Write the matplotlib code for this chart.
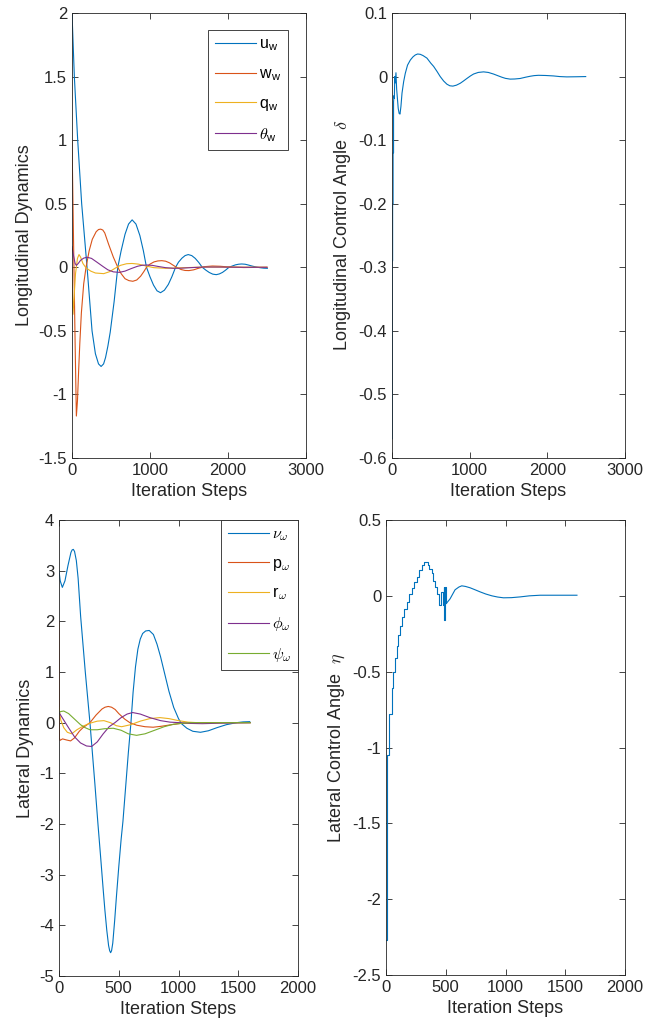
import numpy as np
import matplotlib
matplotlib.use("Agg")
from matplotlib import pyplot as plt
from matplotlib.ticker import FuncFormatter

plt.rcParams['font.family'] = ['Liberation Sans', 'DejaVu Sans']
plt.rcParams['mathtext.fontset'] = 'cm'
plt.rcParams['axes.unicode_minus'] = False

C_BLUE = '#0072BD'
C_ORANGE = '#D95319'
C_YELLOW = '#EDB120'
C_PURPLE = '#7E2F8E'
C_GREEN = '#77AC30'
C_TEXT = '#262626'

# longitudinal dynamics
u_x = [0, 30, 73, 124, 193, 257, 300, 340, 373, 405, 430, 460, 490, 540, 587, 630, 680, 725, 771,
       820, 870, 915, 955, 1000, 1045, 1090, 1135, 1185, 1235, 1280, 1328, 1365, 1410, 1450, 1490,
       1535, 1580, 1625, 1670, 1715, 1760, 1805, 1850, 1890, 1930, 1970, 2013, 2055, 2095, 2135,
       2175, 2220, 2260, 2300, 2340, 2380, 2420, 2460, 2505]
u_y = [2.0, 1.5, 1.0, 0.5, 0.0, -0.5, -0.68, -0.76, -0.78, -0.76, -0.71, -0.62, -0.51, -0.27, 0.0,
       0.13, 0.26, 0.34, 0.373, 0.34, 0.25, 0.13, 0.0, -0.075, -0.14, -0.185, -0.2, -0.18, -0.135,
       -0.075, 0.0, 0.04, 0.072, 0.092, 0.1, 0.092, 0.07, 0.038, 0.0, -0.022, -0.041, -0.054,
       -0.058, -0.052, -0.04, -0.022, 0.0, 0.01, 0.019, 0.024, 0.026, 0.024, 0.018, 0.011, 0.005,
       0.0, -0.004, -0.007, -0.008]

w_x = [0, 20, 40, 56, 70, 86, 100, 120, 150, 180, 220, 260, 310, 340, 368, 395, 420, 470, 530, 587,
       630, 680, 730, 780, 830, 880, 920, 955, 1000, 1050, 1100, 1152, 1200, 1250, 1300, 1340, 1400,
       1450, 1500, 1560, 1620, 1700, 1800, 1900, 2000, 2200, 2500]
w_y = [1.0, 0.2, -0.6, -1.17, -1.05, -0.8, -0.6, -0.36, -0.13, 0.0, 0.13, 0.22, 0.28, 0.297, 0.30,
       0.293, 0.27, 0.18, 0.08, 0.0, -0.05, -0.09, -0.105, -0.11, -0.1, -0.07, -0.035, 0.0, 0.025,
       0.042, 0.05, 0.052, 0.048, 0.035, 0.015, 0.0, -0.018, -0.025, -0.026, -0.02, -0.008, 0.005,
       0.01, 0.008, 0.003, -0.002, 0.0]

q_x = [0, 5, 13, 25, 45, 70, 90, 110, 140, 180, 240, 300, 407, 480, 560, 620, 700, 770, 850, 950,
       1050, 1200, 1400, 1700, 2100, 2500]
q_y = [0.0, -0.2, -0.37, -0.25, -0.05, 0.07, 0.1, 0.08, 0.03, -0.005, -0.03, -0.045, -0.05, -0.035,
       -0.005, 0.015, 0.028, 0.03, 0.025, 0.01, -0.003, -0.008, -0.004, 0.002, 0.001, 0.0]

th_x = [0, 20, 40, 56, 80, 110, 150, 193, 250, 320, 400, 460, 530, 608, 680, 760, 840, 900, 964,
        1030, 1100, 1200, 1300, 1400, 1550, 1700, 1900, 2200, 2500]
th_y = [0.163, 0.09, 0.03, 0.015, 0.03, 0.055, 0.072, 0.079, 0.07, 0.04, 0.005, -0.02, -0.036,
        -0.04, -0.03, -0.01, 0.008, 0.016, 0.018, 0.015, 0.007, -0.003, -0.008, -0.007, -0.002,
        0.002, 0.002, 0.0, 0.0]

# longitudinal control angle
d_x = [0, 4, 4, 8, 8, 14, 14, 20, 20, 26, 30, 36, 42, 51, 60, 70, 80, 92, 103, 115, 129, 150, 171,
       200, 236, 270, 300, 330, 364, 400, 450, 500, 536, 580, 621, 665, 707, 745, 784, 830, 879, 920,
       964, 1010, 1050, 1110, 1179, 1240, 1307, 1360, 1414, 1460, 1521, 1580, 1650, 1720, 1779,
       1830, 1886, 1980, 2079, 2160, 2250, 2370, 2494]
d_y = [-0.57, -0.57, -0.29, -0.29, -0.2, -0.2, -0.12, -0.12, -0.04, -0.03, -0.034, 0.0, -0.01,
       0.006, -0.02, -0.035, -0.05, -0.058, -0.059, -0.047, -0.026, -0.008, 0.005, 0.018, 0.026,
       0.031, 0.034, 0.0355, 0.035, 0.033, 0.029, 0.021, 0.016, 0.008, 0.0, -0.007, -0.012, -0.0145,
       -0.015, -0.0135, -0.0105, -0.007, -0.003, 0.001, 0.004, 0.0065, 0.0074, 0.0065, 0.004,
       0.0015, -0.001, -0.0028, -0.004, -0.0038, -0.003, -0.001, 0.0005, 0.0015, 0.002, 0.0017,
       0.001, 0.0, -0.0005, -0.0003, 0.0]

# lateral dynamics
nu_x = [0, 10, 28, 50, 75, 100, 110, 120, 130, 145, 160, 181, 220, 259, 300, 326, 350, 370, 384,
        400, 415, 424, 432, 440, 450, 466, 480, 500, 520, 535, 560, 580, 602, 620, 640, 660, 680,
        700, 725, 755, 790, 820, 850, 886, 920, 960, 1000, 1025, 1070, 1120, 1184, 1250, 1320,
        1400, 1485, 1540, 1596]
nu_y = [3.0, 2.8, 2.67, 2.8, 3.1, 3.36, 3.41, 3.42, 3.38, 3.2, 2.85, 2.1, 1.0, 0.0, -1.2, -2.0,
        -2.7, -3.3, -3.7, -4.1, -4.4, -4.5, -4.54, -4.5, -4.35, -3.9, -3.45, -2.85, -2.3, -1.95,
        -1.2, -0.6, 0.0, 0.6, 1.1, 1.45, 1.65, 1.76, 1.81, 1.82, 1.74, 1.55, 1.3, 0.95, 0.62, 0.3,
        0.08, -0.02, -0.11, -0.17, -0.19, -0.16, -0.1, -0.04, 0.0, 0.015, 0.02]

p_x = [0, 3, 8, 30, 60, 97, 130, 170, 200, 259, 310, 360, 385, 412, 440, 470, 500, 550, 593, 650,
       720, 788, 860, 940, 1020, 1100, 1200, 1600]
p_y = [2.0, -0.3, -0.35, -0.32, -0.34, -0.36, -0.3, -0.17, -0.1, 0.0, 0.15, 0.27, 0.305, 0.32,
       0.305, 0.26, 0.18, 0.07, 0.0, -0.05, -0.08, -0.09, -0.07, -0.04, -0.015, -0.005, 0.0, 0.0]

r_x = [0, 5, 15, 40, 70, 106, 150, 200, 260, 320, 376, 430, 480, 524, 600, 680, 760, 844, 920, 1000,
       1080, 1200, 1400, 1600]
r_y = [0.3, 0.2, 0.05, -0.1, -0.19, -0.22, -0.14, -0.07, -0.01, 0.03, 0.04, 0.0, -0.06, -0.08,
       -0.04, 0.03, 0.08, 0.1, 0.08, 0.04, 0.01, -0.005, 0.0, 0.0]

phi_x = [0, 40, 80, 130, 180, 230, 273, 320, 370, 420, 468, 520, 570, 616, 680, 760, 850, 930, 1011,
         1100, 1200, 1350, 1600]
phi_y = [0.2, 0.05, -0.1, -0.28, -0.4, -0.46, -0.47, -0.38, -0.22, -0.08, 0.0, 0.1, 0.17, 0.2,
         0.17, 0.1, 0.04, 0.01, 0.0, -0.015, -0.02, -0.01, 0.0]

psi_x = [0, 15, 40, 80, 130, 180, 220, 259, 320, 380, 454, 520, 580, 649, 720, 800, 880, 960, 1040,
         1100, 1600]
psi_y = [0.2, 0.22, 0.23, 0.18, 0.07, -0.04, -0.1, -0.14, -0.14, -0.12, -0.11, -0.15, -0.22, -0.25,
         -0.22, -0.15, -0.08, -0.03, -0.01, 0.0, 0.0]

# lateral control angle: stepped start, smooth tail
eta_step_x = [0, 10, 28, 47, 61, 75, 89, 103, 117, 131, 151, 173, 193, 215, 235, 257, 279, 299,
              321, 341, 355, 363, 383, 397, 411, 430, 447, 461, 475, 486, 489, 497, 505]
eta_step_y = [-2.27, -1.05, -0.78, -0.61, -0.50, -0.41, -0.33, -0.26, -0.20, -0.14, -0.09, -0.04,
              0.015, 0.05, 0.09, 0.126, 0.17, 0.20, 0.22, 0.22, 0.2, 0.18, 0.148, 0.10, 0.06, 0.015,
              -0.06, 0.026, -0.06, 0.06, -0.16, 0.06, -0.05]
eta_x = [505, 536, 578, 610, 634, 665, 704, 745, 788, 835, 886, 935, 983, 1050, 1123, 1200, 1290,
         1450, 1598]
eta_y = [-0.05, -0.02, 0.04, 0.058, 0.066, 0.062, 0.053, 0.04, 0.026, 0.012, 0.0, -0.008, -0.013,
         -0.012, -0.007, 0.0, 0.004, 0.004, 0.004]

W, H = 645, 1036
fig = plt.figure(figsize=(W / 100, H / 100), dpi=100)


def fmt(v, p):
    return '%g' % (round(v, 6) + 0.0)


def make_ax(l, t, r, b):
    ax = fig.add_axes([l / W, 1 - b / H, (r - l) / W, (b - t) / H])
    ax.tick_params(direction='in', top=True, right=True, labelsize=12, colors=C_TEXT,
                   length=4, width=0.6)
    for s in ax.spines.values():
        s.set_linewidth(0.6)
        s.set_color(C_TEXT)
    ax.yaxis.set_major_formatter(FuncFormatter(fmt))
    ax.set_xlabel('Iteration Steps', fontsize=13, color=C_TEXT, labelpad=4)
    return ax


def make_legend(ax, anchor, spacing):
    leg = ax.legend(loc='upper right', bbox_to_anchor=anchor, fontsize=11.5, fancybox=False,
                    framealpha=1, edgecolor=C_TEXT, handlelength=2.6, labelspacing=spacing,
                    borderpad=0.4, handletextpad=0.2, borderaxespad=0)
    leg.get_frame().set_linewidth(0.6)
    return leg


lw = 0.8

ax1 = make_ax(72, 13, 306, 458)
ax1.plot(u_x, u_y, color=C_BLUE, lw=lw, label='u$_\\mathregular{w}$')
ax1.plot(w_x, w_y, color=C_ORANGE, lw=lw, label='w$_\\mathregular{w}$')
ax1.plot(q_x, q_y, color=C_YELLOW, lw=lw, label='q$_\\mathregular{w}$')
ax1.plot(th_x, th_y, color=C_PURPLE, lw=lw, label='$\\theta_\\mathregular{w}$')
ax1.set_xlim(0, 3000)
ax1.set_ylim(-1.5, 2)
ax1.set_xticks([0, 1000, 2000, 3000])
ax1.set_yticks(np.arange(-1.5, 2.01, 0.5))
ax1.set_ylabel('Longitudinal Dynamics', fontsize=13, color=C_TEXT)
make_legend(ax1, (0.923, 0.962), 0.82)

ax2 = make_ax(392, 13, 625, 458)
ax2.plot(d_x, d_y, color=C_BLUE, lw=lw)
ax2.set_xlim(0, 3000)
ax2.set_ylim(-0.6, 0.1)
ax2.set_xticks([0, 1000, 2000, 3000])
ax2.set_yticks(np.arange(-0.6, 0.101, 0.1))
ax2.set_ylabel('Longitudinal Control Angle  $\\delta$', fontsize=13, color=C_TEXT)

ax3 = make_ax(59, 520, 298, 976)
ax3.plot(nu_x, nu_y, color=C_BLUE, lw=lw, label='$\\nu_\\omega$')
ax3.plot(p_x, p_y, color=C_ORANGE, lw=lw, label='p$_\\omega$')
ax3.plot(r_x, r_y, color=C_YELLOW, lw=lw, label='r$_\\omega$')
ax3.plot(phi_x, phi_y, color=C_PURPLE, lw=lw, label='$\\phi_\\omega$')
ax3.plot(psi_x, psi_y, color=C_GREEN, lw=lw, label='$\\psi_\\omega$')
ax3.set_xlim(0, 2000)
ax3.set_ylim(-5, 4)
ax3.set_xticks([0, 500, 1000, 1500, 2000])
ax3.set_yticks(np.arange(-5, 4.01, 1))
ax3.set_ylabel('Lateral Dynamics', fontsize=13, color=C_TEXT)
make_legend(ax3, (1.0, 1.0), 0.8)

ax4 = make_ax(386, 520, 625, 975)
ax4.plot(eta_step_x, eta_step_y, color=C_BLUE, lw=lw, drawstyle='steps-post')
ax4.plot(eta_x, eta_y, color=C_BLUE, lw=lw)
ax4.set_xlim(0, 2000)
ax4.set_ylim(-2.5, 0.5)
ax4.set_xticks([0, 500, 1000, 1500, 2000])
ax4.set_yticks(np.arange(-2.5, 0.51, 0.5))
ax4.set_ylabel('Lateral Control Angle  $\\eta$', fontsize=13, color=C_TEXT)

fig.savefig('out.png', dpi=100)
